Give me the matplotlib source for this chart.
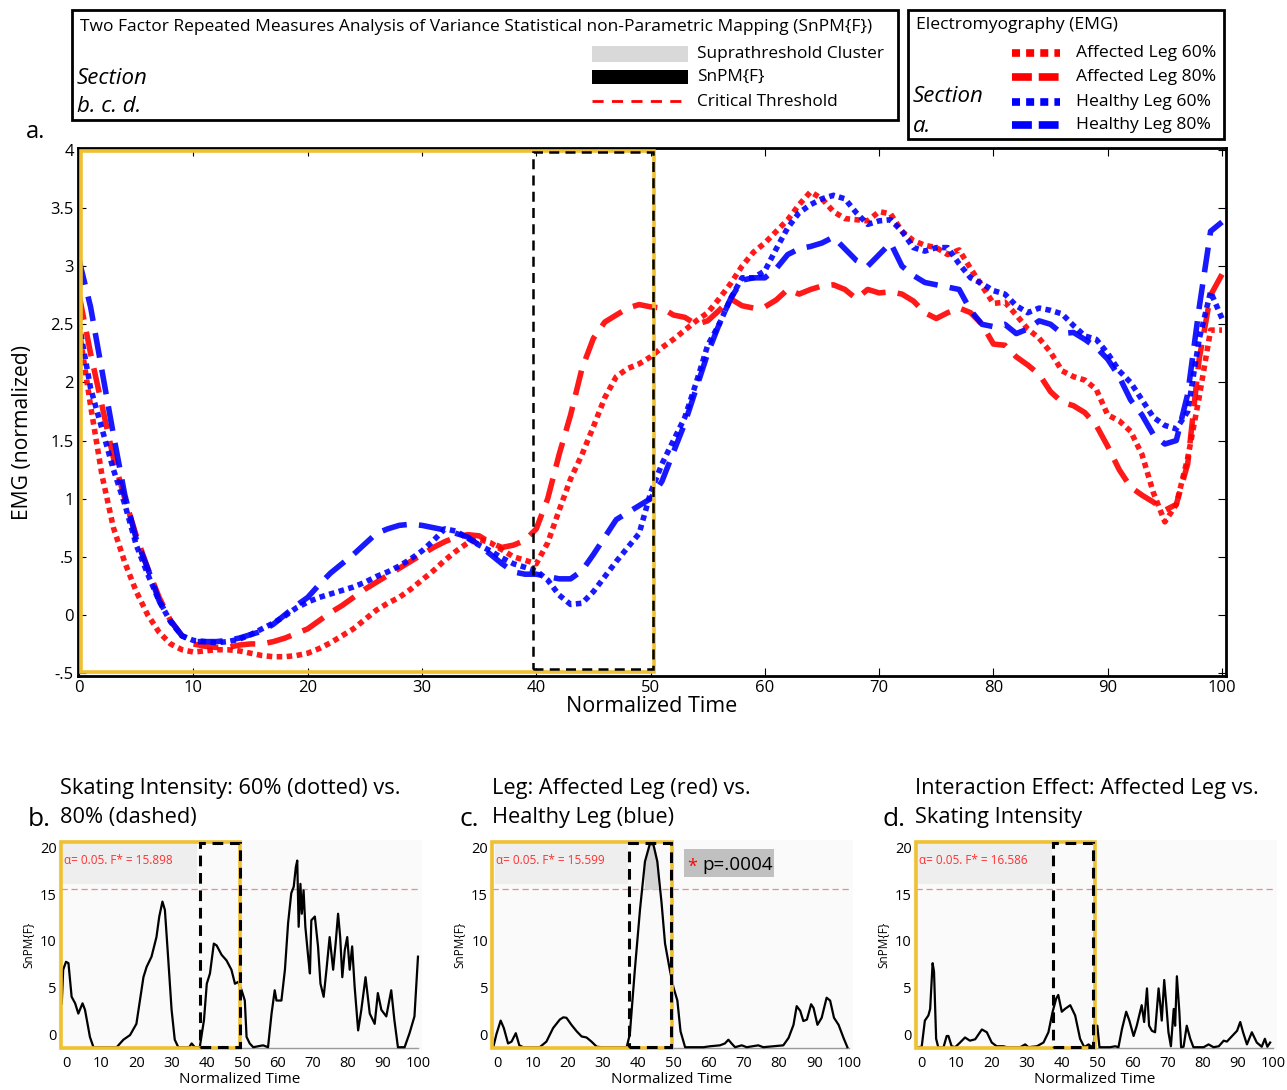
import matplotlib
matplotlib.use('Agg')
import matplotlib.pyplot as plt
from matplotlib.patches import Rectangle
from matplotlib.lines import Line2D
import numpy as np

plt.rcParams['font.family'] = ['Open Sans', 'DejaVu Sans']

# ---------------- data: EMG (section a) ----------------
t = np.arange(101)
aff60 = [2.45, 1.8, 1.2, 0.75, 0.45, 0.2, 0.0, -0.15, -0.25, -0.3,
         -0.32, -0.31, -0.3, -0.3, -0.31, -0.33, -0.35, -0.36, -0.36, -0.35,
         -0.33, -0.29, -0.24, -0.18, -0.12, -0.04, 0.04, 0.1, 0.15, 0.22,
         0.3, 0.38, 0.47, 0.55, 0.62, 0.65, 0.62, 0.56, 0.5, 0.47,
         0.44, 0.62, 0.9, 1.17, 1.38, 1.62, 1.87, 2.05, 2.12, 2.16,
         2.22, 2.3, 2.37, 2.45, 2.53, 2.6, 2.72, 2.85, 3.0, 3.12,
         3.2, 3.3, 3.4, 3.53, 3.64, 3.58, 3.47, 3.41, 3.4, 3.39,
         3.47, 3.45, 3.3, 3.22, 3.18, 3.16, 3.1, 3.14, 2.98, 2.83,
         2.68, 2.69, 2.58, 2.46, 2.38, 2.26, 2.1, 2.05, 2.02, 1.94,
         1.72, 1.67, 1.58, 1.38, 1.05, 0.8, 0.95, 1.35, 1.87, 2.45, 2.45]
aff80 = [2.75, 2.25, 1.8, 1.35, 1.0, 0.68, 0.4, 0.15, -0.05, -0.18,
         -0.25, -0.27, -0.28, -0.28, -0.26, -0.25, -0.25, -0.23, -0.2, -0.16,
         -0.12, -0.05, 0.02, 0.08, 0.15, 0.22, 0.28, 0.34, 0.4, 0.46,
         0.52, 0.58, 0.63, 0.67, 0.69, 0.68, 0.62, 0.58, 0.6, 0.64,
         0.74, 1.0, 1.38, 1.72, 2.12, 2.38, 2.52, 2.58, 2.64, 2.67,
         2.65, 2.64, 2.58, 2.56, 2.5, 2.53, 2.62, 2.72, 2.66, 2.64,
         2.65, 2.71, 2.8, 2.76, 2.8, 2.83, 2.84, 2.8, 2.72, 2.8,
         2.77, 2.78, 2.76, 2.7, 2.6, 2.55, 2.6, 2.64, 2.6, 2.5,
         2.33, 2.32, 2.22, 2.15, 2.07, 1.92, 1.83, 1.8, 1.74, 1.63,
         1.45, 1.25, 1.1, 1.03, 0.97, 0.9, 0.95, 1.3, 2.2, 2.75, 2.93]
hea60 = [2.5, 1.95, 1.6, 1.25, 0.95, 0.6, 0.35, 0.12, -0.06, -0.18,
         -0.22, -0.23, -0.24, -0.23, -0.21, -0.17, -0.12, -0.07, -0.01, 0.06,
         0.11, 0.15, 0.18, 0.21, 0.24, 0.28, 0.33, 0.37, 0.42, 0.48,
         0.55, 0.64, 0.74, 0.72, 0.66, 0.6, 0.55, 0.49, 0.44, 0.41,
         0.38, 0.3, 0.17, 0.09, 0.1, 0.2, 0.33, 0.46, 0.58, 0.7,
         1.05, 1.3, 1.5, 1.7, 2.0, 2.32, 2.5, 2.72, 2.9, 2.9,
         2.96, 3.15, 3.33, 3.46, 3.53, 3.58, 3.61, 3.58, 3.46, 3.36,
         3.39, 3.4, 3.3, 3.16, 3.13, 3.16, 3.16, 3.02, 2.9, 2.85,
         2.79, 2.76, 2.66, 2.6, 2.64, 2.62, 2.59, 2.49, 2.4, 2.37,
         2.25, 2.1, 2.0, 1.85, 1.7, 1.63, 1.6, 1.75, 2.37, 2.78, 2.55]
hea80 = [3.05, 2.65, 2.1, 1.55, 1.03, 0.65, 0.4, 0.12, -0.05, -0.18,
         -0.23, -0.23, -0.23, -0.22, -0.2, -0.17, -0.14, -0.08, 0.0, 0.08,
         0.15, 0.26, 0.36, 0.44, 0.52, 0.61, 0.7, 0.74, 0.77, 0.78,
         0.77, 0.75, 0.73, 0.7, 0.67, 0.6, 0.52, 0.44, 0.37, 0.35,
         0.35, 0.33, 0.31, 0.31, 0.38, 0.52, 0.67, 0.82, 0.88, 0.94,
         1.0, 1.15, 1.4, 1.65, 1.95, 2.25, 2.5, 2.72, 2.88, 2.9,
         2.9, 2.98, 3.1, 3.15, 3.17, 3.2, 3.25, 3.15, 3.05, 3.0,
         3.1, 3.2, 3.0, 2.92, 2.86, 2.84, 2.82, 2.8, 2.62, 2.5,
         2.48, 2.5, 2.42, 2.46, 2.53, 2.5, 2.42, 2.43, 2.37, 2.3,
         2.2, 2.05, 1.85, 1.72, 1.55, 1.47, 1.5, 1.9, 2.64, 3.3, 3.38]

# ---------------- data: SnPM{F} (sections b, c, d) ----------------
b_x = [-1.2, -0.8, 0, 0.7, 1.6, 2.6, 3.5, 4.7, 5.4, 6.8, 7.8, 14.4, 16.3, 18.2, 20,
       22, 22.9, 24.3, 25.7, 26.5, 27.4, 28.1, 29, 30, 30.9, 31.9, 35, 35.7, 36.6, 38,
       39.2, 40, 40.9, 42, 42.8, 44.2, 45.6, 47, 48, 48.9, 49.9, 50.8, 51.3, 52.2, 53.2,
       56, 57.4, 58.4, 59.3, 59.8, 61.2, 62.2, 63.1, 64, 64.7, 65.3, 65.7, 66.1, 66.6, 67,
       67.5, 68, 68.8, 69.3, 69.7, 70.7, 71.6, 72.3, 73.2, 74, 74.9, 75.9, 76.6, 77.3, 77.9,
       78.5, 79.2, 79.9, 80.6, 81.3, 82, 83, 83.9, 85.1, 86.3, 87.7, 88.6, 89.6, 91, 92.4,
       93.3, 94.3, 96.2, 97.6, 99, 100]
b_y = [3.3, 6.9, 7.75, 7.6, 4.0, 3.3, 2.2, 3.3, 2.6, -0.3, -1.4, -1.4, -0.6, -0.1, 1.1,
       6.1, 7.2, 8.3, 10.4, 12.6, 14.2, 13.3, 8.3, 2.6, -0.6, -1.4, -1.4, -1.0, -1.4, -1.4,
       1.5, 5.4, 6.5, 9.7, 9.5, 8.5, 7.9, 6.9, 5.4, 5.6, 4.7, 3.6, -0.3, -1.0, -1.4,
       -1.2, -1.4, 2.2, 4.7, 3.6, 3.6, 6.9, 11.9, 15.1, 15.8, 17.9, 18.6, 11.5, 16.1, 12.9,
       15.4, 11.5, 8.3, 6.5, 12.2, 12.6, 9.4, 5.4, 4.0, 6.9, 10.4, 6.9, 9.7, 12.9, 10.4,
       6.1, 9.0, 10.4, 6.9, 9.4, 5.1, 0.4, 2.6, 6.1, 2.2, 1.1, 4.4, 2.6, 1.9, 4.7,
       1.5, -1.4, -1.4, 0.1, 1.9, 8.3]

c_x = [-1.2, -0.3, 0.9, 1.8, 3, 4, 5.2, 6.2, 7.3, 12, 13.9, 15.8, 17.7, 18.7, 19.6,
       21, 22.5, 23.9, 25.3, 26.7, 28.2, 29.6, 36.7, 37.6, 39, 40.5, 41.9, 43.3, 44.3, 45.4,
       46.6, 47.6, 49, 50, 51.1, 52, 53.3, 58.5, 60.4, 63.2, 64.6, 65.6, 66.5, 67.5, 69.4,
       70.8, 74.1, 75.5, 81.2, 82.7, 84.1, 85, 86, 86.9, 87.9, 89.1, 89.8, 90.9, 92.1, 93.5,
       94.5, 95.6, 96.9, 98.3, 99.4]
c_y = [-1.4, 0, 1.45, 0.65, -1.0, -0.8, 0.1, -1.2, -1.4, -1.4, -0.8, 0.65, 1.56, 1.8, 1.75,
       1.0, 0.3, -0.25, -0.36, -0.8, -1.35, -1.4, -1.4, 0, 6.8, 13.4, 18.5, 20.4, 20.3, 18.5,
       14.1, 9.7, 6.8, 5.0, 3.6, 0.3, -1.4, -1.4, -1.3, -1.2, -1.0, -0.6, -1.0, -1.4, -1.2,
       -1.4, -1.2, -1.4, -1.2, -0.4, 1.0, 3.0, 2.5, 1.4, 1.56, 3.2, 2.8, 1.0, 1.75, 3.9,
       3.6, 1.75, 1.0, -0.4, -1.4]

d_x = [-0.8, 0.2, 1.1, 2.1, 2.6, 3.3, 3.7, 4.3, 4.9, 6.4, 7.3, 7.8, 8.7, 9.7, 11.1,
       12.5, 13.9, 15.4, 17.3, 18.7, 20.1, 21.5, 23.4, 24.4, 28.2, 29.6, 30.5, 32.9, 34.8, 36.2,
       37.4, 38.4, 39, 40, 40.9, 42.4, 43.8, 45.2, 46.4, 47.6, 48.3, 49, 49.5, 50.1, 50.7,
       53.7, 55.2, 56.1, 57.1, 58.3, 59.2, 60.4, 61.3, 62.7, 63.4, 64.2, 64.8, 65.6, 66.5, 67.5,
       68, 68.4, 69.1, 69.7, 70.3, 71, 71.8, 72.2, 72.7, 73.4, 73.9, 74.6, 75.5, 76.5, 77.4,
       80.3, 81.7, 83.1, 84.6, 86, 86.9, 88.4, 89.8, 90.7, 91.5, 92.6, 94, 95.4, 96.8, 97.7,
       98.4, 99.2]
d_y = [-1.4, -1.35, 1.45, 2.0, 2.7, 7.6, 6.7, -0.5, -1.4, -1.4, -0.2, -0.2, -1.3, -1.4, -0.9,
       -0.36, -0.7, -0.55, 0.5, 0.2, -0.9, -1.3, -1.3, -1.4, -1.4, -1.1, -1.4, -1.3, -0.9, 0.2,
       2.4, 3.8, 4.2, 2.4, 2.7, 3.1, 2.0, -0.5, -1.4, -1.1, -1.3, -1.4, 0.9, 0.9, -1.4,
       -1.4, -1.3, -1.4, 0.55, 2.4, 1.45, -0.2, 0.9, 3.1, 1.3, 4.9, 0.9, 0.36, 0.2, 4.9,
       3.1, 1.45, 5.8, 3.1, 0.2, -1.3, 2.7, 0.9, 6.2, 2.4, -1.4, -1.35, 0.9, -0.5, -1.4,
       -1.4, -1.1, -1.4, -1.3, -0.7, -0.8, -0.2, 0.36, 1.3, 0.2, -1.1, 0.2, -0.9, -1.35, -0.5,
       -1.35, -0.9]

panel_titles = ['Skating Intensity: 60% (dotted) vs.\n80% (dashed)',
                'Leg: Affected Leg (red) vs.\nHealthy Leg (blue)',
                'Interaction Effect: Affected Leg vs.\nSkating Intensity']
panel_letters = ['b.', 'c.', 'd.']
crit_text = ['\u03b1= 0.05. F* = 15.898', '\u03b1= 0.05. F* = 15.599', '\u03b1= 0.05. F* = 16.586']
crit_line = [15.5, 15.6, 15.5]

W, H = 1287, 1090
fig = plt.figure(figsize=(W / 100, H / 100), dpi=100)
YEL = '#f0c030'


def px_axes(l, t_, r, b):
    return fig.add_axes([l / W, 1 - b / H, (r - l) / W, (b - t_) / H])


# ---------------- main EMG panel ----------------
ax = px_axes(78, 148, 1226, 676)
dot = (0, (1.0, 0.8))
dash = (0, (4.5, 2.2))
ax.plot(t, aff60, color='red', lw=4, ls=dot, alpha=0.9)
ax.plot(t, aff80, color='red', lw=4, ls=dash, alpha=0.9)
ax.plot(t, hea60, color='blue', lw=4, ls=dot, alpha=0.9)
ax.plot(t, hea80, color='blue', lw=4, ls=dash, alpha=0.9)
ax.add_patch(Rectangle((0.2, -0.495), 50.1, 4.49, fill=False, ec=YEL, lw=2.6, zorder=3))
ax.add_patch(Rectangle((39.7, -0.47), 10.5, 4.45, fill=False, ec='black', lw=1.8,
                       ls=(0, (4, 2.5)), zorder=4))
ax.set_xlim(-0.1, 100.35)
ax.set_ylim(-0.526, 4.017)
ax.set_xticks(range(0, 101, 10))
ax.set_yticks([-0.5, 0, 0.5, 1, 1.5, 2, 2.5, 3, 3.5, 4])
ax.set_yticklabels(['-.5', '0', '.5', '1', '1.5', '2', '2.5', '3', '3.5', '4'])
ax.tick_params(direction='in', top=True, right=True, labelsize=12, length=6, pad=3)
for s in ax.spines.values():
    s.set_linewidth(2)
ax.set_xlabel('Normalized Time', fontsize=15.5, labelpad=0)
ax.set_ylabel('EMG (normalized)', fontsize=15.2)
ax.yaxis.set_label_coords(-0.039, 0.462)

# ---------------- SnPM panels ----------------
panel_x0 = [66, 497.5, 921]
series = [(b_x, b_y), (c_x, c_y), (d_x, d_y)]
dbox = [(38.2, 49.5), (37.5, 49.3), (37.4, 48.9)]
for i, (px0, (xs, ys)) in enumerate(zip(panel_x0, series)):
    a = px_axes(px0 - 8.1, 840, px0 + 355.5, 1050)
    a.set_facecolor('#fafafa')
    a.set_xlim(-2.3, 101)
    a.set_ylim(-1.7, 20.8)
    for s in a.spines.values():
        s.set_visible(False)
    a.plot([50, 100], [-1.45, -1.45], color='#9a9a9a', lw=1, zorder=1)
    a.plot(xs, ys, color='black', lw=1.6, zorder=3)
    a.plot([-1.5, 100], [crit_line[i], crit_line[i]], color='#f08a8a', lw=0.9,
           ls=(0, (5, 3)), zorder=2)
    if i == 1:
        xx = np.array(xs)
        yy = np.array(ys)
        m = (xx >= 40.5) & (xx <= 46.6)
        a.fill_between(xx[m], crit_line[i], yy[m], where=yy[m] > crit_line[i],
                       color='#d4d4d4', zorder=2)
    a.add_patch(Rectangle((-0.8, 16.1), 38.0, 4.3, fc='#eeeeee', ec='none', zorder=1))
    a.text(-0.5, 18.6, crit_text[i], color='#ff3030', fontsize=8.5, va='center', zorder=4)
    a.add_patch(Rectangle((-1.5, -1.45), 51.0, 22.0, fill=False, ec=YEL, lw=2.6, zorder=5))
    a.add_patch(Rectangle((dbox[i][0], -1.4), dbox[i][1] - dbox[i][0], 21.9, fill=False,
                          ec='black', lw=2.2, ls=(0, (3.5, 2.2)), zorder=6))
    a.set_xticks(range(0, 101, 10))
    a.set_yticks([0, 5, 10, 15, 20])
    a.tick_params(length=0, labelsize=10.5, pad=4)
    a.tick_params(axis='y', pad=1)
    a.set_xlabel('Normalized Time', fontsize=11, labelpad=1)
    a.set_ylabel('SnPM{F}', fontsize=8.5, labelpad=4)
    if i == 1:
        a.add_patch(Rectangle((53.0, 16.8), 25.6, 3.0, fc='#c0c0c0', ec='none', zorder=3))
        a.text(54.0, 17.9, '*', color='red', fontsize=13, va='center', zorder=4)
        a.text(58.3, 18.1, 'p=.0004', fontsize=13.6, va='center', zorder=4)

# ---------------- overlay for legends & annotations ----------------
ov = fig.add_axes([0, 0, 1, 1], zorder=10)
ov.set_xlim(0, W)
ov.set_ylim(H, 0)
ov.axis('off')
ov.patch.set_alpha(0)

ov.add_patch(Rectangle((72, 10), 826, 110, fill=False, ec='black', lw=2))
ov.text(80, 27, 'Two Factor Repeated Measures Analysis of Variance Statistical non-Parametric Mapping (SnPM{F})',
        fontsize=12.5, va='center')
ov.text(77, 79, 'Section', fontsize=16, style='italic', va='center')
ov.text(77, 107, 'b. c. d.', fontsize=16, style='italic', va='center')
ov.add_patch(Rectangle((592, 46), 96, 16, fc='#d9d9d9', ec='none'))
ov.add_patch(Rectangle((592, 70), 96, 14, fc='black', ec='none'))
ov.add_line(Line2D([592, 688], [101, 101], color='red', lw=2, ls=(0, (4, 3))))
for yy, txt in zip([54, 77, 102], ['Suprathreshold Cluster', 'SnPM{F}', 'Critical Threshold']):
    ov.text(697, yy, txt, fontsize=12.4, va='center')

ov.add_patch(Rectangle((908, 10), 316, 129, fill=False, ec='black', lw=2))
ov.text(916, 25, 'Electromyography (EMG)', fontsize=12.6, va='center')
ov.text(913, 97, 'Section', fontsize=16, style='italic', va='center')
ov.text(913, 126, 'a.', fontsize=16, style='italic', va='center')
leg_cols = ['red', 'red', 'blue', 'blue']
leg_ls = [(0, (1.05, 0.8)), (0, (2.6, 0.9)), (0, (1.05, 0.8)), (0, (2.6, 0.9))]
leg_txt = ['Affected Leg 60%', 'Affected Leg 80%', 'Healthy Leg 60%', 'Healthy Leg 80%']
for k, yy in enumerate([53, 77, 102, 125]):
    ov.add_line(Line2D([1012, 1060], [yy, yy], color=leg_cols[k], lw=5.5, ls=leg_ls[k],
                       solid_capstyle='butt', dash_capstyle='butt'))
    ov.text(1076, yy, leg_txt[k], fontsize=12.6, va='center')

ov.text(26, 132, 'a.', fontsize=17, va='center')
for i, px0 in enumerate(panel_x0):
    ov.text(px0 - 6, 803, panel_titles[i], fontsize=15.7, va='center', linespacing=1.5)
    ov.text(px0 - 38, 819, panel_letters[i], fontsize=19, va='center')

fig.savefig('out.png', dpi=100)
